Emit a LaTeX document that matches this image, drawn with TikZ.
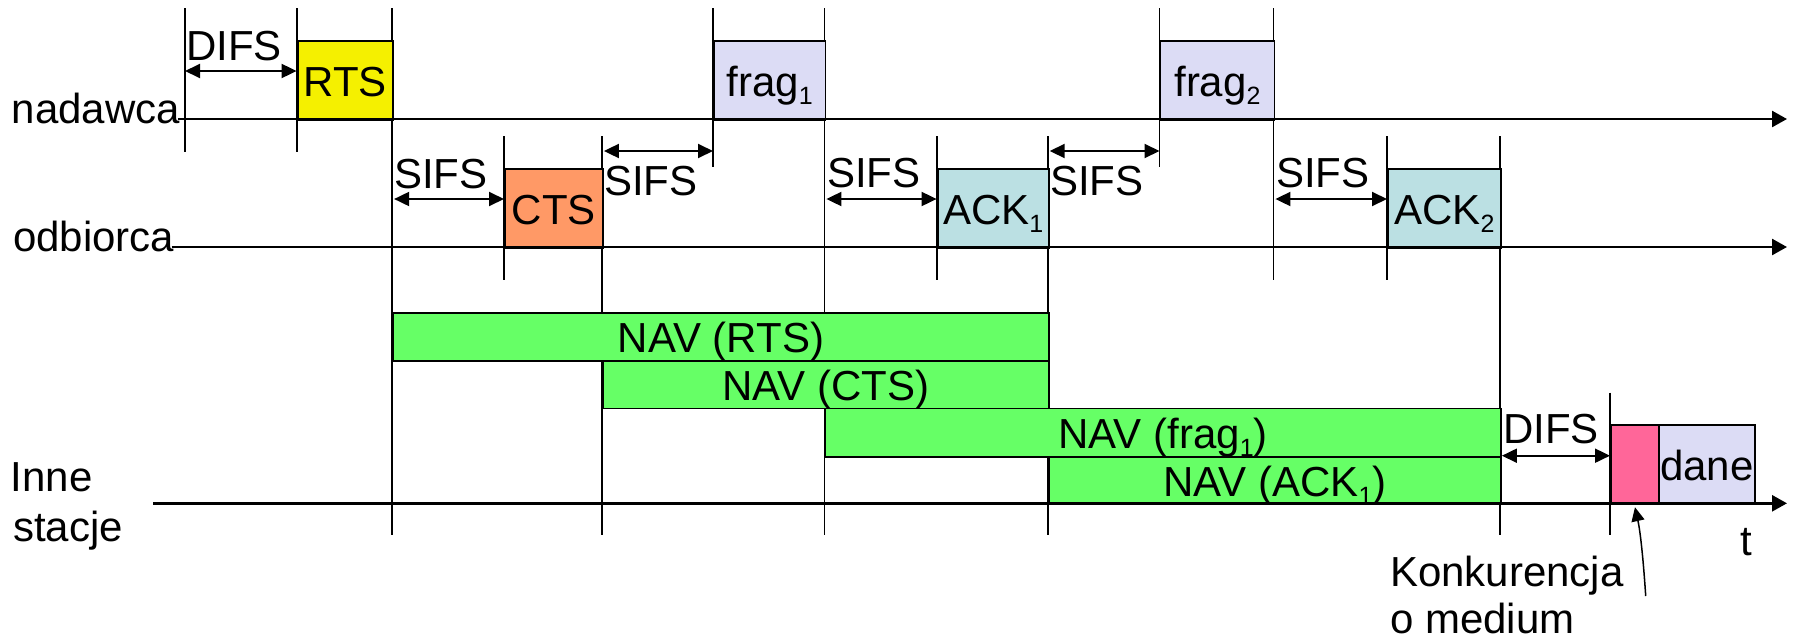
\documentclass[tikz,border=0pt]{standalone}
\usepackage{fontspec}
\setmainfont{Liberation Sans}
\usetikzlibrary{arrows.meta}
\definecolor{rtsyellow}{RGB}{245,240,0}
\definecolor{ctsorange}{RGB}{255,153,102}
\definecolor{fraglilac}{RGB}{220,220,245}
\definecolor{ackcyan}{RGB}{187,224,227}
\definecolor{navgreen}{RGB}{102,255,102}
\definecolor{contpink}{RGB}{255,102,153}
% small lowered index (frag_1, ACK_1, ...)
\newcommand\lowidx[1]{\raisebox{-8pt}{\fontsize{25}{25}\selectfont #1}}
\begin{document}
\begin{tikzpicture}[x=1pt,y=-1pt,
  every node/.style={font=\fontsize{42}{50}\selectfont, inner sep=0pt},
  frame/.style={draw, line width=1.9pt, anchor=north west, text height=32pt, text depth=0pt},
  axis/.style={line width=2.6pt, -{Triangle[length=15pt,width=16pt]}},
  tick/.style={line width=1.9pt},
  span/.style={line width=1.9pt, {Triangle[length=15pt,width=14pt]}-{Triangle[length=15pt,width=14pt]}},
  lbl/.style={anchor=base west},
  pointer/.style={line width=1.5pt, -{Triangle[length=14pt,width=13pt]}},
]
\useasboundingbox (0,0) rectangle (1793,643);

% boundary marks (drawn first, the frames cover them)
\foreach \x/\a/\b in {185/8/152, 296.6/8/152, 392.2/8/535, 504/136/280, 602/136/535,
  713/8/167, 824.5/8/535, 936.6/136/280, 1047.8/136/535, 1159.5/8/167,
  1273.5/8/280, 1387/136/280, 1500/136/535, 1610/392.7/535}
  \draw[tick] (\x,\a) -- (\x,\b);

% frames sent by the sender and the receiver
\node[frame, fill=rtsyellow,  minimum width=95.6pt, minimum height=79pt] (rts)   at (296.6,40)  {RTS};
\node[frame, fill=ctsorange,  minimum width=98pt,   minimum height=79pt] (cts)   at (504,168)   {CTS};
\node[frame, fill=fraglilac,  minimum width=111.5pt,minimum height=79pt] (frag1) at (713,40)    {frag\lowidx{1}};
\node[frame, fill=ackcyan,    minimum width=111.2pt,minimum height=79pt] (ack1)  at (936.6,168) {ACK\lowidx{1}};
\node[frame, fill=fraglilac,  minimum width=114pt,  minimum height=79pt] (frag2) at (1159.5,40) {frag\lowidx{2}};
\node[frame, fill=ackcyan,    minimum width=113pt,  minimum height=79pt] (ack2)  at (1387,168)  {ACK\lowidx{2}};

% NAV periods of the other stations
\node[frame, fill=navgreen, minimum width=655.6pt, minimum height=48pt]   (navrts)  at (392.2,312)   {NAV (RTS)};
\node[frame, fill=navgreen, minimum width=445.8pt, minimum height=47.5pt] (navcts)  at (602,360)     {NAV (CTS)};
\node[frame, fill=navgreen, minimum width=675.5pt, minimum height=48.2pt] (navfrag) at (824.5,407.5) {NAV (frag\lowidx{1})};
\node[frame, fill=navgreen, minimum width=452.2pt, minimum height=47.6pt] (navack)  at (1047.8,455.7){NAV (ACK\lowidx{1})};

% contention and the next data frame
\node[frame, fill=contpink,  minimum width=48pt, minimum height=79.3pt] (cont) at (1610,424) {};
\node[frame, fill=fraglilac, minimum width=96pt, minimum height=79.3pt] (dane) at (1658,424) {dane};

% time axes
\coordinate (sA) at (178,119);   \coordinate (sB) at (1787,119);
\coordinate (rA) at (171.5,247); \coordinate (rB) at (1787,247);
\coordinate (oA) at (153,503.3); \coordinate (oB) at (1787,503.3);
\draw[axis] (sA) -- (sB);
\draw[axis] (rA) -- (rB);
\draw[axis] (oA) -- (oB);

% inter-frame spaces
\coordinate (d0) at (185,71);
\draw[span] (d0) -- (rts.west |- d0);
\draw[span] (rts.east |- 0,199) -- (cts.west |- 0,199);
\draw[span] (cts.east |- 0,151) -- (frag1.west |- 0,151);
\draw[span] (frag1.east |- 0,199) -- (ack1.west |- 0,199);
\draw[span] (ack1.east |- 0,151) -- (frag2.west |- 0,151);
\draw[span] (frag2.east |- 0,199) -- (ack2.west |- 0,199);
\draw[span] (ack2.east |- 0,455.7) -- (cont.west |- 0,455.7);

\node[lbl] (l1) at (186,60)   {DIFS};
\node[lbl] (l2) at (394,188)  {SIFS};
\node[lbl] (l3) at (604,195)  {SIFS};
\node[lbl] (l4) at (827,187)  {SIFS};
\node[lbl] (l5) at (1050,195) {SIFS};
\node[lbl] (l6) at (1276,187) {SIFS};
\node[lbl] (l7) at (1503,443) {DIFS};

% station names
\node[lbl] (snd) at (11.5,123)  {nadawca};
\node[lbl] (rcv) at (13,251.7)  {odbiorca};
\node[lbl] (oth1) at (10.5,491.7) {Inne};
\node[lbl] (oth2) at (13,541.7)   {stacje};
\node[anchor=base] (tl) at (1746.7,555) {t};

% contention note
\node[lbl] (k1) at (1390,586.7) {Konkurencja};
\node[lbl] (k2) at (1390,633)   {o medium};
\coordinate (kp) at (1645.7,596);
\draw[pointer] (kp) .. controls (1643,555) and (1640,530) .. ([yshift=-2pt]cont.south);
\end{tikzpicture}
\end{document}
